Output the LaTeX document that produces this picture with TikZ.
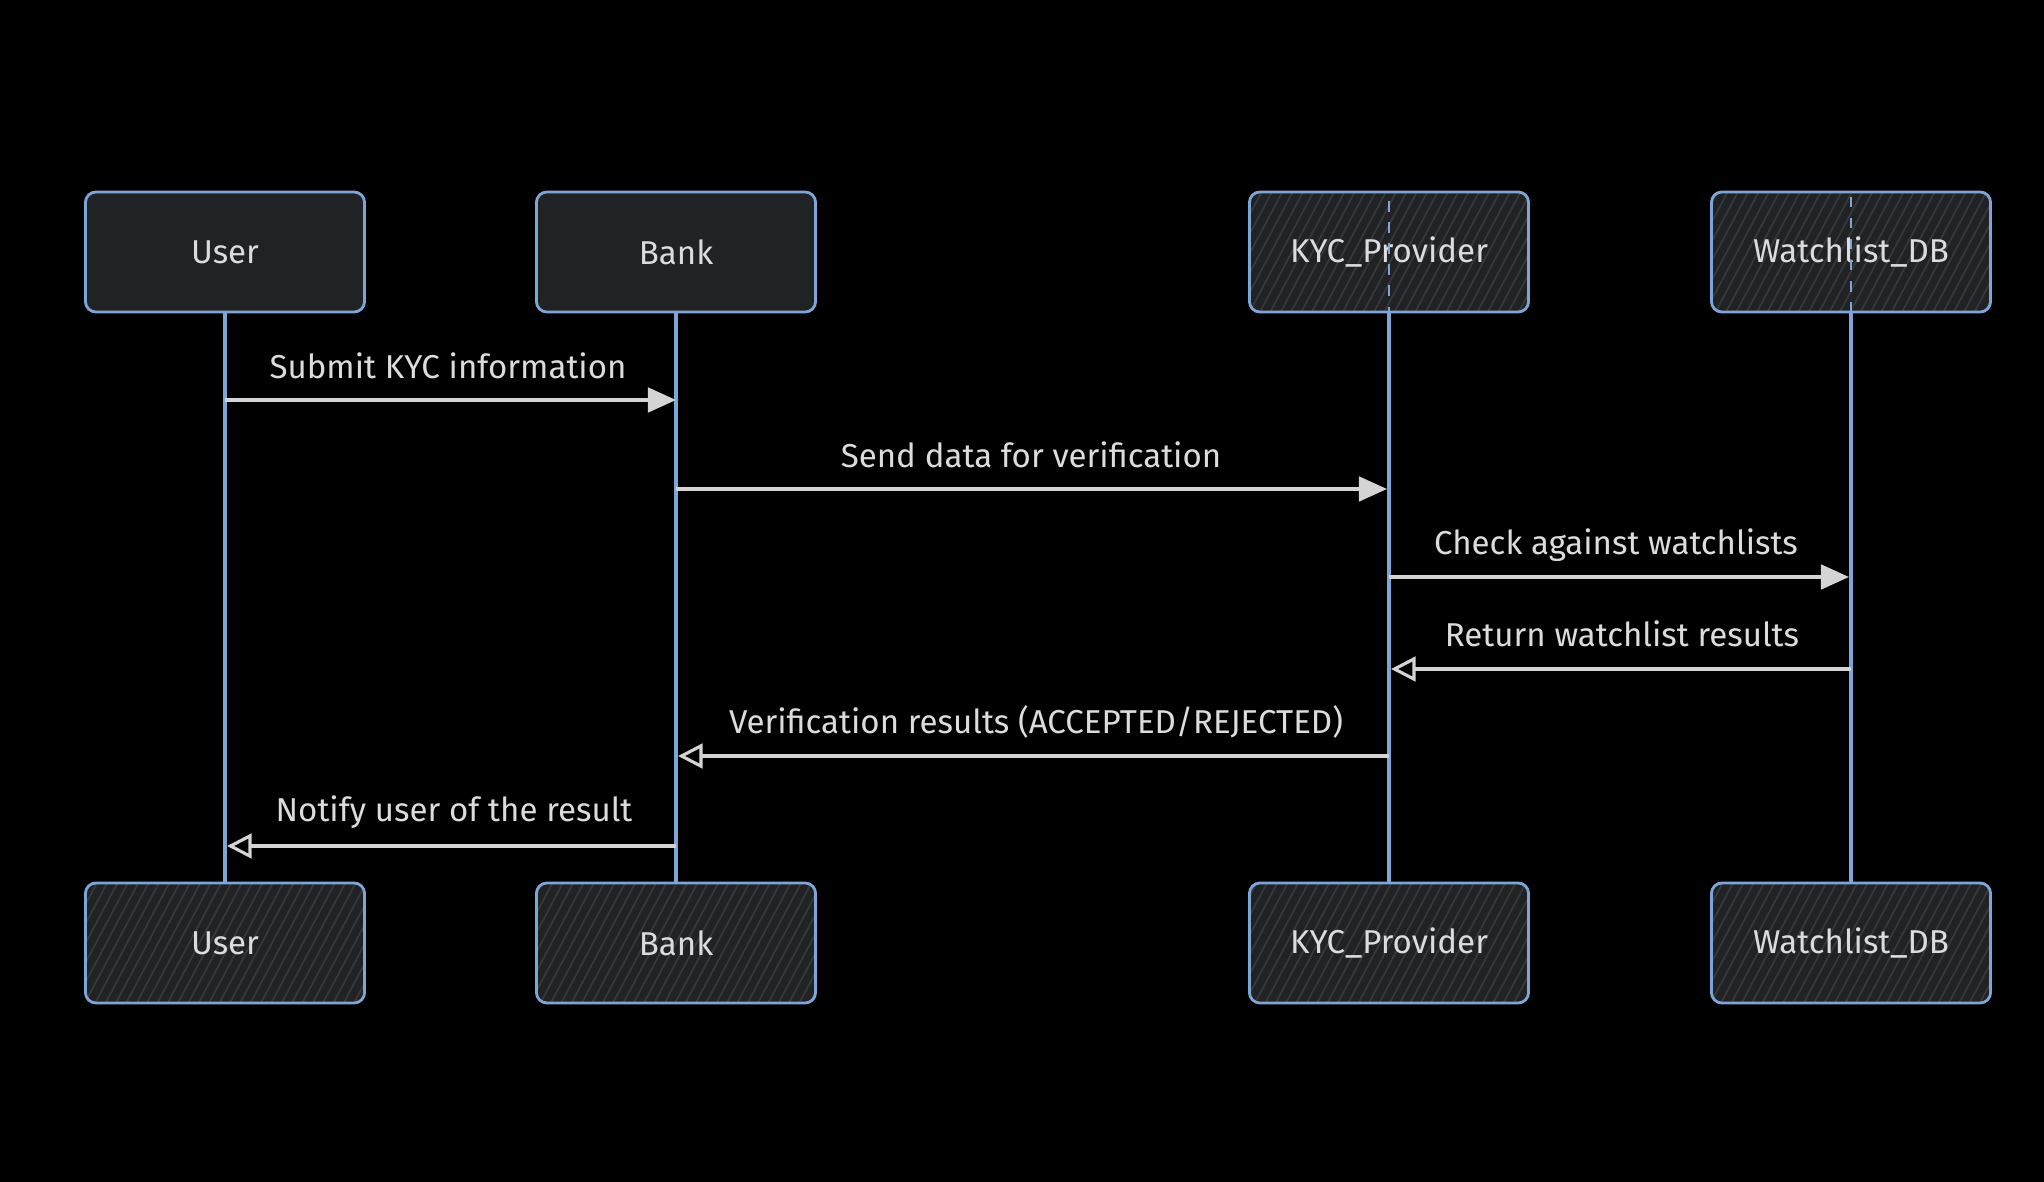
\documentclass[tikz,border=0pt]{standalone}
\usepackage{fontspec}
\setmainfont{Fira Sans}
\usetikzlibrary{arrows.meta,patterns.meta}

\definecolor{boxfill}{HTML}{212223}
\definecolor{boxline}{HTML}{7DA6D8}
\definecolor{hatch}{HTML}{36383B}
\definecolor{msgtext}{HTML}{DCDCDC}
\definecolor{msgline}{HTML}{D4D4D4}

\tikzset{
	actor/.style={draw=boxline, fill=boxfill, line width=0.8pt, rounded corners=3pt,
		minimum width=2.79cm, minimum height=1.2cm, inner sep=0pt,
		text=msgtext, font=\fontsize{9.4}{11}\selectfont},
	hatched/.style={preaction={fill=boxfill},
		pattern={Lines[angle=62,distance=2.6pt,line width=0.5pt]}, pattern color=hatch},
	lifeline/.style={boxline, line width=0.9pt},
	call/.style={msgline, line width=0.9pt, -{Triangle[length=8pt,width=7pt]}},
	reply/.style={msgline, line width=0.9pt, -{Triangle[open,length=7pt,width=7pt]}},
	msglabel/.style={text=msgtext, font=\fontsize{9.4}{11}\selectfont, inner sep=1pt},
}

\begin{document}
\begin{tikzpicture}[x=0.01cm, y=-0.01cm]
	\fill[black] (0,0) rectangle (2044,1182);
	\useasboundingbox (0,0) rectangle (2044,1182);

	% participants, top row
	\node[actor] (userT) at (225,252) {User};
	\node[actor] (bankT) at (676,252) {Bank};
	\node[actor, hatched] (kycT) at (1389,252) {KYC\_Provider};
	\node[actor, hatched] (wlT) at (1851,252) {Watchlist\_DB};

	% participants, bottom row
	\node[actor, hatched] (userB) at (225,943) {User};
	\node[actor, hatched] (bankB) at (676,943) {Bank};
	\node[actor, hatched] (kycB) at (1389,943) {KYC\_Provider};
	\node[actor, hatched] (wlB) at (1851,943) {Watchlist\_DB};

	% lifelines
	\draw[lifeline] (userT.south) -- (userB.north);
	\draw[lifeline] (bankT.south) -- (bankB.north);
	\draw[lifeline] (kycT.south) -- (kycB.north);
	\draw[lifeline] (wlT.south) -- (wlB.north);
	\draw[boxline, line width=0.8pt, dashed] (kycT.north) ++(0,10) -- (kycT.south);
	\draw[boxline, line width=0.8pt, dashed] (wlT.north) ++(0,6) -- (wlT.south);

	% message end points on the lifelines
	\coordinate (m1a) at (225,400);  \coordinate (m1b) at (676,400);
	\coordinate (m2a) at (676,489);  \coordinate (m2b) at (1387,489);
	\coordinate (m3a) at (1389,577); \coordinate (m3b) at (1849,577);
	\coordinate (m4a) at (1851,669); \coordinate (m4b) at (1391,669);
	\coordinate (m5a) at (1389,756); \coordinate (m5b) at (678,756);
	\coordinate (m6a) at (676,846);  \coordinate (m6b) at (227,846);

	% messages
	\draw[call] (m1a) -- (m1b);
	\draw[call] (m2a) -- (m2b);
	\draw[call] (m3a) -- (m3b);
	\draw[reply] (m4a) -- (m4b);
	\draw[reply] (m5a) -- (m5b);
	\draw[reply] (m6a) -- (m6b);

	% message labels
	\node[msglabel] (l1) at (448,366) {Submit KYC information};
	\node[msglabel] (l2) at (1031,455) {Send data for verification};
	\node[msglabel] (l3) at (1616,545) {Check against watchlists};
	\node[msglabel] (l4) at (1622,634) {Return watchlist results};
	\node[msglabel] (l5) at (1036,722) {Verification results (ACCEPTED/REJECTED)};
	\node[msglabel] (l6) at (454,812) {Notify user of the result};
\end{tikzpicture}
\end{document}
